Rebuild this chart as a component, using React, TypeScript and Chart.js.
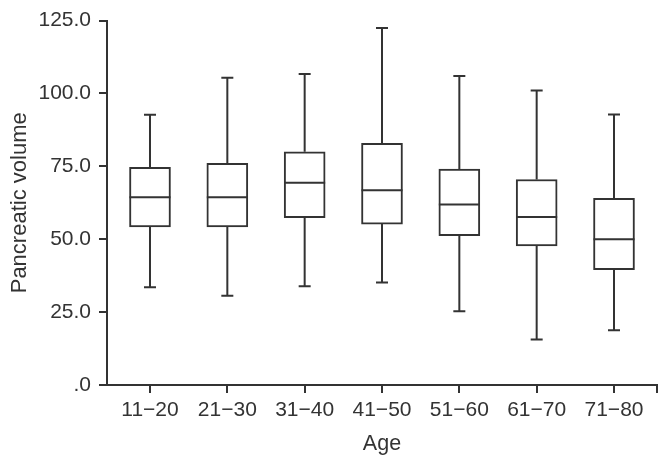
import React, { useEffect, useRef } from 'react';
import { Chart, registerables } from 'chart.js';

Chart.register(...registerables);

const categories = ['11−20', '21−30', '31−40', '41−50', '51−60', '61−70', '71−80'];
const whiskerLow = [33.5, 30.6, 33.9, 35.2, 25.3, 15.6, 18.8];
const q1 = [54.2, 54.2, 57.4, 55.2, 51.2, 47.7, 39.6];
const median = [64.4, 64.4, 69.4, 66.8, 61.9, 57.6, 50.0];
const q3 = [74.7, 76.0, 80.0, 82.9, 74.1, 70.5, 64.0];
const whiskerHigh = [92.7, 105.4, 106.7, 122.5, 106.0, 101.0, 92.8];
const yTicks = [0, 25, 50, 75, 100, 125];

const INK = '#333333';
const FONT = "'Liberation Sans', Arial, Helvetica, sans-serif";
const X_MIN = -0.556;
const X_MAX = 6.556;

const boxPlotPlugin = {
  id: 'boxWhiskers',
  afterDatasetsDraw(chart: any) {
    const xs = chart.scales.x;
    const ys = chart.scales.y;
    const ctx = chart.ctx;
    const meta = chart.getDatasetMeta(0);
    ctx.save();
    ctx.strokeStyle = INK;
    ctx.lineWidth = 2;
    ctx.lineCap = 'butt';
    categories.forEach((_, i) => {
      const x = xs.getPixelForValue(i);
      const bar = meta.data[i];
      const half = bar ? bar.width / 2 : 20;
      const capHalf = 6;
      const yHi = ys.getPixelForValue(whiskerHigh[i]);
      const yQ3 = ys.getPixelForValue(q3[i]);
      const yQ1 = ys.getPixelForValue(q1[i]);
      const yLo = ys.getPixelForValue(whiskerLow[i]);
      const yMed = ys.getPixelForValue(median[i]);
      ctx.beginPath();
      ctx.moveTo(x, yQ3);
      ctx.lineTo(x, yHi);
      ctx.moveTo(x - capHalf, yHi);
      ctx.lineTo(x + capHalf, yHi);
      ctx.moveTo(x, yQ1);
      ctx.lineTo(x, yLo);
      ctx.moveTo(x - capHalf, yLo);
      ctx.lineTo(x + capHalf, yLo);
      ctx.moveTo(x - half, yMed);
      ctx.lineTo(x + half, yMed);
      ctx.stroke();
    });
    ctx.restore();
  },
};

export default function App() {
  const canvasRef = useRef<HTMLCanvasElement | null>(null);

  useEffect(() => {
    const canvas = canvasRef.current;
    if (!canvas) return;
    const chart = new Chart(canvas, {
      type: 'bar',
      data: {
        datasets: [
          {
            data: categories.map((_, i) => ({ x: i, y: [q1[i], q3[i]] })) as any,
            backgroundColor: '#ffffff',
            borderColor: INK,
            borderWidth: 2,
            borderSkipped: false,
            barThickness: 41,
          },
        ],
      },
      options: {
        animation: false,
        responsive: false,
        devicePixelRatio: 1,
        layout: { padding: { top: 20, right: 13, bottom: 0, left: 0 } },
        plugins: {
          legend: { display: false },
          tooltip: { enabled: false },
        },
        scales: {
          x: {
            type: 'linear',
            min: X_MIN,
            max: X_MAX,
            offset: false,
            afterBuildTicks: (scale: any) => {
              scale.ticks = categories.map((_, i) => ({ value: i })).concat([{ value: X_MAX }]);
            },
            afterFit: (scale: any) => {
              scale.height = 84;
            },
            ticks: {
              autoSkip: false,
              maxRotation: 0,
              padding: 5,
              color: INK,
              font: { family: FONT, size: 21 },
              callback: (v: any) => {
                const idx = Math.round(Number(v));
                return Math.abs(Number(v) - idx) < 1e-6 && categories[idx] ? categories[idx] : '';
              },
            },
            grid: {
              display: true,
              offset: false,
              drawOnChartArea: false,
              drawTicks: true,
              tickLength: 8,
              color: INK,
              lineWidth: 2,
            },
            border: { display: true, color: INK, width: 2 },
            title: {
              display: true,
              text: 'Age',
              color: INK,
              font: { family: FONT, size: 21.5 },
              padding: { top: 0, bottom: 12 },
            },
          },
          y: {
            min: 0,
            max: 125,
            afterBuildTicks: (scale: any) => {
              scale.ticks = yTicks.map((v) => ({ value: v }));
            },
            afterFit: (scale: any) => {
              scale.width = 107;
            },
            ticks: {
              padding: 8,
              color: INK,
              font: { family: FONT, size: 21 },
              callback: (v: any) => (Number(v) === 0 ? '.0' : Number(v).toFixed(1)),
            },
            grid: {
              display: true,
              offset: false,
              drawOnChartArea: false,
              drawTicks: true,
              tickLength: 8,
              color: INK,
              lineWidth: 2,
            },
            border: { display: true, color: INK, width: 2 },
            title: {
              display: true,
              text: 'Pancreatic volume',
              color: INK,
              font: { family: FONT, size: 22 },
              padding: { top: 7, bottom: 0 },
            },
          },
        },
      },
      plugins: [boxPlotPlugin],
    } as any);
    return () => chart.destroy();
  }, []);

  return (
    <div style={{ position: 'fixed', left: 0, top: 0, width: 670, height: 469, background: '#fff' }}>
      <canvas ref={canvasRef} width={670} height={469} style={{ display: 'block' }} />
    </div>
  );
}
